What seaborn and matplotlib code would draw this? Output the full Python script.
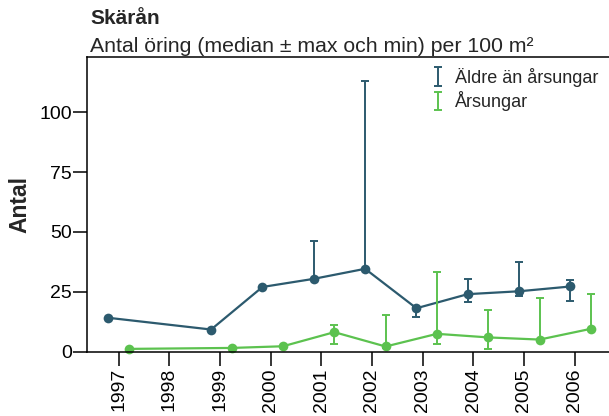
import matplotlib
matplotlib.use("Agg")
import matplotlib.pyplot as plt
import numpy as np
import pandas as pd
import seaborn as sns

# ---- data ----
years = [1997, 1999, 2000, 2001, 2002, 2003, 2004, 2005, 2006]
aldre_median = [14.1, 9.2, 27.0, 30.4, 34.6, 18.1, 24.0, 25.2, 27.2]
aldre_min = [14.1, 9.2, 27.0, 29.8, 34.0, 14.6, 20.7, 23.2, 21.3]
aldre_max = [14.1, 9.2, 27.0, 46.4, 113.2, 18.6, 30.3, 37.3, 29.9]
arsungar_median = [1.1, 1.5, 2.2, 8.1, 2.1, 7.4, 5.9, 5.0, 9.5]
arsungar_min = [1.1, 1.5, 2.2, 3.1, 1.6, 3.1, 0.9, 4.6, 9.0]
arsungar_max = [1.1, 1.5, 2.2, 11.1, 15.4, 33.4, 17.5, 22.5, 24.2]
tick_years = list(range(1997, 2007))
series_names = ["Äldre än årsungar", "Årsungar"]
series_colors = ["#2c5a6e", "#5cc24f"]
dodge = [-0.2, 0.2]

title = "Skärån"
subtitle = "Antal öring (median ± max och min) per 100 m²"
ylabel = "Antal"

frames = []
for name, med, lo, hi, dx in zip(series_names,
                                 [aldre_median, arsungar_median],
                                 [aldre_min, arsungar_min],
                                 [aldre_max, arsungar_max], dodge):
    frames.append(pd.DataFrame({"year": years, "median": med, "min": lo,
                                "max": hi, "series": name,
                                "x": np.array(years) + dx}))
df = pd.concat(frames, ignore_index=True)

sns.set_style("ticks")
plt.rcParams["font.family"] = ["Liberation Sans", "DejaVu Sans"]

fig = plt.figure(figsize=(6.09, 4.16), dpi=100)
ax = fig.add_axes([0.1433, 0.155, 0.8567, 0.708])

handles = []
for name, color in zip(series_names, series_colors):
    d = df[df["series"] == name]
    sns.lineplot(data=d, x="x", y="median", color=color, marker="o",
                 markersize=7, markeredgewidth=0, linewidth=1.6,
                 legend=False, ax=ax, clip_on=False)
    eb = ax.errorbar(d["x"], d["median"],
                     yerr=[d["median"] - d["min"], d["max"] - d["median"]],
                     fmt="none", ecolor=color, elinewidth=1.4, capsize=2.6,
                     capthick=1.4, label=name)
    handles.append(eb)

ax.set_xlim(1996.387, 2006.552)
ax.set_ylim(0, 123.2)
ax.set_yticks([0, 25, 50, 75, 100])
ax.tick_params(axis="y", labelsize=14, length=10, width=1.1, pad=1,
               colors="black")
ax.set_xticks([])
ax.tick_params(axis="x", bottom=False, labelbottom=False, top=False)
ax.set_xlabel("")
ax.set_ylabel(ylabel, fontsize=16.5, fontweight="bold", labelpad=6)
for s in ["left", "bottom", "top"]:
    ax.spines[s].set_linewidth(1.1)
    ax.spines[s].set_color("black")
ax.spines["right"].set_visible(False)

ax2 = ax.twiny()
ax2.set_xlim(1996.38, 2006.68)
ax2.xaxis.set_ticks_position("bottom")
ax2.set_xticks(tick_years)
ax2.set_xticklabels([str(y) for y in tick_years], rotation=90)
ax2.tick_params(axis="x", labelsize=14, length=10, width=1.1, pad=2,
                colors="black")
ax2.minorticks_off()
for s in ax2.spines.values():
    s.set_visible(False)

leg = ax.legend(handles=handles, labels=series_names, loc="upper right",
                bbox_to_anchor=(1.0, 1.0), frameon=False, fontsize=13,
                handlelength=0.9, handletextpad=0.5, labelspacing=0.25,
                borderaxespad=0.2)

fig.text(90 / 609, 1 - 24 / 416, title, fontsize=15, fontweight="bold",
         ha="left", va="baseline")
fig.text(90 / 609, 1 - 52 / 416, subtitle, fontsize=15.3,
         ha="left", va="baseline")

fig.savefig("out.png", dpi=100)
